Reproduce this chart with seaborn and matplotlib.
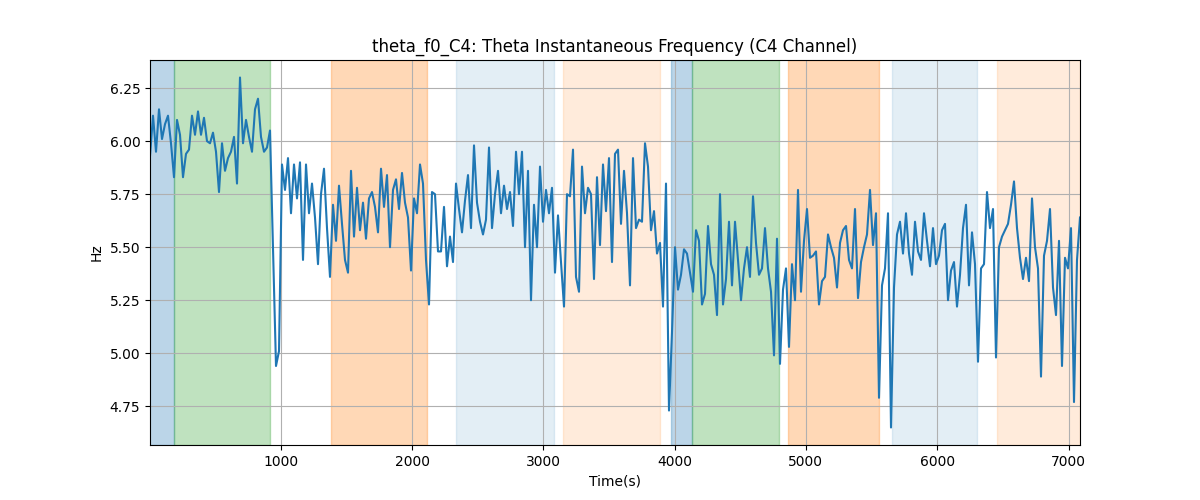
import numpy as np
import pandas as pd
import matplotlib
matplotlib.use("Agg")
import matplotlib.pyplot as plt
import seaborn as sns

# instantaneous theta frequency, one sample every ~22.85 s
freq_hz = [
    # 0 - 700 s
    5.93, 6.12, 5.95, 6.15, 6.01, 6.08, 6.12, 5.99, 5.83, 6.10, 6.03, 5.83, 5.94, 5.96, 6.12, 6.03,
    6.14, 6.03, 6.11, 6.00, 5.99, 6.04, 5.95, 5.76, 5.99, 5.86, 5.92, 5.95, 6.02, 5.80, 6.30, 5.99,
    # ~730 - 1460 s
    6.10, 6.02, 5.95, 6.15, 6.20, 6.02, 5.95, 5.97, 6.05, 5.50, 4.94, 5.01, 5.89, 5.77, 5.92, 5.66,
    5.89, 5.73, 5.90, 5.44, 5.89, 5.66, 5.80, 5.64, 5.42, 5.75, 5.87, 5.59, 5.36, 5.70, 5.53, 5.79,
    5.61,
    # ~1480 - 2190 s
    5.44, 5.38, 5.86, 5.55, 5.78, 5.58, 5.71, 5.54, 5.73, 5.76, 5.69, 5.57, 5.87, 5.69, 5.84, 5.50,
    5.77, 5.82, 5.68, 5.85, 5.71, 5.64, 5.39, 5.73, 5.66, 5.89, 5.80, 5.44, 5.23, 5.76, 5.75, 5.48,
    # ~2210 - 2920 s
    5.48, 5.69, 5.41, 5.55, 5.43, 5.80, 5.68, 5.57, 5.72, 5.84, 5.59, 5.98, 5.71, 5.62, 5.56, 5.63,
    5.97, 5.59, 5.75, 5.86, 5.66, 5.79, 5.68, 5.76, 5.60, 5.95, 5.75, 5.95, 5.50, 5.86, 5.25, 5.70,
    # ~2940 - 3650 s
    5.50, 5.88, 5.62, 5.77, 5.66, 5.78, 5.38, 5.65, 5.43, 5.22, 5.75, 5.74, 5.96, 5.36, 5.29, 5.88,
    5.66, 5.78, 5.75, 5.35, 5.83, 5.51, 5.89, 5.67, 5.92, 5.43, 5.94, 5.96, 5.61, 5.86, 5.66, 5.32,
    # ~3670 - 4360 s
    5.92, 5.59, 5.63, 5.62, 5.99, 5.88, 5.58, 5.67, 5.47, 5.52, 5.22, 5.80, 4.73, 5.10, 5.50, 5.30,
    5.37, 5.49, 5.47, 5.38, 5.29, 5.58, 5.53, 5.23, 5.28, 5.60, 5.42, 5.37, 5.18, 5.75, 5.23,
    # ~4380 - 5090 s
    5.35, 5.62, 5.32, 5.62, 5.44, 5.25, 5.40, 5.50, 5.36, 5.74, 5.52, 5.37, 5.40, 5.59, 5.40, 5.29,
    4.99, 5.54, 4.95, 5.30, 5.40, 5.03, 5.42, 5.25, 5.77, 5.29, 5.53, 5.68, 5.45, 5.46, 5.48, 5.23,
    # ~5110 - 5800 s
    5.34, 5.36, 5.56, 5.50, 5.45, 5.31, 5.52, 5.58, 5.60, 5.44, 5.40, 5.68, 5.26, 5.43, 5.50, 5.56,
    5.77, 5.51, 5.66, 4.79, 5.32, 5.40, 5.66, 4.65, 5.31, 5.56, 5.62, 5.47, 5.66, 5.47, 5.37,
    # ~5820 - 6510 s
    5.62, 5.48, 5.44, 5.66, 5.53, 5.41, 5.59, 5.42, 5.46, 5.58, 5.61, 5.25, 5.39, 5.43, 5.22, 5.37,
    5.59, 5.70, 5.32, 5.57, 5.42, 4.96, 5.40, 5.42, 5.76, 5.59, 5.68, 4.98, 5.50, 5.55, 5.58,
    # ~6530 - 7085 s
    5.61, 5.70, 5.81, 5.59, 5.45, 5.35, 5.45, 5.34, 5.73, 5.50, 5.40, 4.89, 5.46, 5.53, 5.68, 5.31,
    5.18, 5.53, 4.94, 5.45, 5.40, 5.59, 4.77, 5.44, 5.64,
]
first_sample_s = 4.0
sample_step_s = 22.85

# shaded epochs: (start, end, colour, alpha)
span_starts = [0, 187, 1381, 2333, 3150, 3976, 4133, 4864, 5656, 6456]
span_ends = [187, 921, 2117, 3079, 3887, 4133, 4793, 5554, 6306, 7090]
span_colors = ["tab:blue", "tab:green", "tab:orange", "tab:blue", "tab:orange",
               "tab:blue", "tab:green", "tab:orange", "tab:blue", "tab:orange"]
span_alphas = [0.3, 0.3, 0.3, 0.12, 0.15, 0.3, 0.3, 0.3, 0.12, 0.15]

df = pd.DataFrame({
    "time": first_sample_s + np.arange(len(freq_hz)) * sample_step_s,
    "freq": freq_hz,
})

fig, ax = plt.subplots(figsize=(12, 5), dpi=100)

for start, end, color, alpha in zip(span_starts, span_ends, span_colors, span_alphas):
    ax.axvspan(start, end, color=color, alpha=alpha)

sns.lineplot(data=df, x="time", y="freq", ax=ax, color="tab:blue", linewidth=1.5)

ax.set_xlim(df["time"].min(), df["time"].max())
ax.grid(True)
ax.set_title("theta_f0_C4: Theta Instantaneous Frequency (C4 Channel)")
ax.set_xlabel("Time(s)")
ax.set_ylabel("Hz")

fig.savefig("out.png")
plt.close(fig)
